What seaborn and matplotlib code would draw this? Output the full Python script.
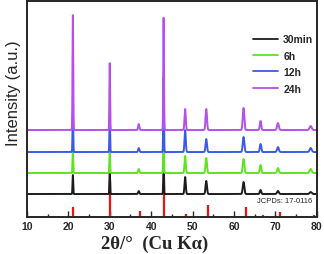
import numpy as np
import pandas as pd
import matplotlib
matplotlib.use("Agg")
import matplotlib.pyplot as plt
import seaborn as sns

# peak positions (2theta, deg) and heights (arb. units)
samples = ["30min", "6h", "12h", "24h"]
offsets = [23, 44, 65, 87]
peak_pos = [21.1, 30.0, 37.0, 43.0, 48.2, 53.3, 62.3, 66.4, 70.6, 78.5]
heights = {
    "30min": [19, 23, 3, 28, 17, 13, 12, 4, 3, 2],
    "6h":    [22, 24, 4, 51, 17, 15, 14, 8, 5, 4],
    "12h":   [40, 35, 4, 75, 22, 13, 15, 8, 5, 4],
    "24h":   [115, 67, 6, 113, 21, 21, 22, 9, 7, 4],
}
widths = [0.2, 0.2, 0.35, 0.2, 0.35, 0.4, 0.45, 0.4, 0.5, 0.6]
colors = ["#1c1c1c", "#5fe321", "#3b5ae8", "#b550ee"]

# JCPDS 17-0116 reference lines
ref_pos = [21.2, 30.1, 37.2, 43.2, 48.5, 53.6, 62.8, 67.0, 71.2, 79.2]
ref_h = [10, 36, 6, 40, 3, 12, 10, 2, 5, 2]

x = np.linspace(10, 80, 3500)
rows = []
for s, off in zip(samples, offsets):
    y = np.full_like(x, float(off))
    for p, h, w in zip(peak_pos, heights[s], widths):
        y += h * np.exp(-0.5 * ((x - p) / (w / 2.355)) ** 2)
    rows.append(pd.DataFrame({"two_theta": x, "intensity": y, "sample": s}))
df = pd.concat(rows)

sns.set_style("ticks")
fig = plt.figure(figsize=(3.24, 2.55), dpi=100)
ax = fig.add_axes([0.083, 0.145, 0.895, 0.847])

sns.lineplot(data=df, x="two_theta", y="intensity", hue="sample",
             palette=dict(zip(samples, colors)), lw=1.4, ax=ax,
             estimator=None, sort=False, legend=False)
ax.vlines(ref_pos, 0, ref_h, color="#ee1111", lw=1.6, zorder=1)

ax.set_xlim(10, 80)
ax.set_ylim(0, 216)
ax.set_yticks([])
ax.set_xticks(range(10, 81, 10))
ax.set_xticks(range(15, 80, 10), minor=True)
ax.tick_params(axis="x", which="major", direction="in", length=4, width=1,
               labelsize=7.5, pad=3)
ax.tick_params(axis="x", which="minor", direction="in", length=2, width=1)
for t in ax.get_xticklabels():
    t.set_fontweight("bold")
    t.set_family("Liberation Sans")
for sp in ax.spines.values():
    sp.set_linewidth(1.4)

ax.set_xlabel("2θ/°  (Cu Kα)", family="Liberation Serif", fontweight="bold",
              fontsize=13.5, va="center")
ax.xaxis.set_label_coords(0.44, -0.12)
ax.set_ylabel("Intensity (a.u.)", family="Liberation Sans", fontsize=12,
              va="center")
ax.yaxis.set_label_coords(-0.045, 0.58)

handles = [plt.Line2D([], [], color=c, lw=1.3) for c in colors]
ax.legend(handles, samples, loc="upper right", bbox_to_anchor=(1.02, 0.89),
          frameon=False, handlelength=2.4, labelspacing=0.62, handletextpad=0.5,
          prop={"family": "Liberation Sans", "weight": "bold", "size": 7.5})

ax.text(0.985, 0.075, "JCPDs: 17-0116", transform=ax.transAxes, ha="right",
        va="center", fontsize=5.5, family="Liberation Sans")

fig.savefig("out.png", dpi=100)
